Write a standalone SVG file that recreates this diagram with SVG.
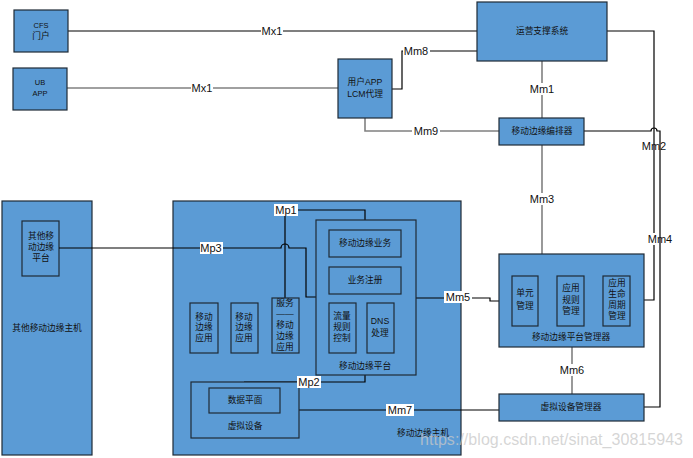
<svg xmlns="http://www.w3.org/2000/svg" width="693" height="458" viewBox="0 0 693 458">
<style>
.box{fill:#5b9bd5;stroke:#1e2a36;stroke-width:1.2}
.t{font-family:"Liberation Sans","Noto Sans CJK SC",sans-serif;font-size:8.7px;fill:#111;text-anchor:middle;dominant-baseline:central}
.lb{font-family:"Liberation Sans","Noto Sans CJK SC",sans-serif;font-size:11px;fill:#111;text-anchor:middle;dominant-baseline:central}
.bg{fill:#fff}
.k{fill:none;stroke:#000;stroke-width:1.2}
.g{fill:none;stroke:#808080;stroke-width:1.6}
</style>
<rect width="693" height="458" fill="#fff"/>

<g id="other-host"><rect class="box" x="2" y="201" width="90" height="254"/><text class="t" x="47" y="328">其他移动边缘主机</text></g>
<g id="other-platform"><rect class="box" x="22" y="221" width="37" height="55"/><text class="t" x="41" y="236">其他移</text><text class="t" x="41" y="247">动边缘</text><text class="t" x="41" y="258">平台</text></g>
<g id="me-host"><rect class="box" x="173" y="201" width="288" height="254"/><text class="t" x="423" y="433">移动边缘主机</text></g>

<g id="connectors">
<path class="k" d="M68,31 H477"/>
<path class="g" d="M67,88 H338"/>
<path class="k" d="M392,89 H402 V51 H477"/>
<path class="g" d="M542,61 V118"/>
<path class="g" d="M365,118 V131 H499"/>
<path class="k" d="M607,31 H654 V300 H644"/>
<path class="k" d="M584,131 H651 a3,3 0 0 1 6,0 H660 V407 H644"/>
<path class="g" d="M542,145 V254"/>
<path class="g" d="M572,347 V394"/>
<path class="k" d="M416,298 H490 V301 H499"/>
<path class="k" d="M299,410 H499"/>
<path class="k" d="M59,248 H281 a4,4 0 0 1 8,0 H306 V297 H316"/>
<path class="k" d="M285,298 V210 H365 V220"/>
<path class="k" d="M365,375 V382 H244"/>
</g>

<g id="cfs"><rect class="box" x="14" y="10" width="54" height="42"/><text class="t" x="41" y="25" style="font-size:7.5px">CFS</text><text class="t" x="41" y="36">门户</text></g>
<g id="ub-app"><rect class="box" x="13" y="68" width="54" height="42"/><text class="t" x="40" y="82" style="font-size:7.5px">UB</text><text class="t" x="40" y="93" style="font-size:7.5px">APP</text></g>
<g id="lcm"><rect class="box" x="338" y="59" width="54" height="59"/><text class="t" x="365" y="82">用户APP</text><text class="t" x="365" y="94">LCM代理</text></g>
<g id="oss"><rect class="box" x="477" y="2" width="130" height="59"/><text class="t" x="542" y="31">运营支撑系统</text></g>
<g id="meo"><rect class="box" x="499" y="118" width="85" height="27"/><text class="t" x="542" y="131">移动边缘编排器</text></g>

<g id="mepm"><rect class="box" x="499" y="254" width="145" height="93"/><text class="t" x="571" y="337">移动边缘平台管理器</text>
<rect class="box" x="512" y="276" width="26" height="50"/><text class="t" x="525" y="293">单元</text><text class="t" x="525" y="306">管理</text>
<rect class="box" x="557" y="276" width="27" height="50"/><text class="t" x="571" y="288">应用</text><text class="t" x="571" y="300">规则</text><text class="t" x="571" y="311">管理</text>
<rect class="box" x="603" y="276" width="27" height="50"/><text class="t" x="617" y="283">应用</text><text class="t" x="617" y="294">生命</text><text class="t" x="617" y="305">周期</text><text class="t" x="617" y="316">管理</text></g>
<g id="vim"><rect class="box" x="499" y="394" width="145" height="27"/><text class="t" x="571" y="407">虚拟设备管理器</text></g>

<g id="mep"><rect class="box" x="316" y="220" width="100" height="155"/><text class="t" x="365" y="366">移动边缘平台</text>
<rect class="box" x="329" y="230" width="72" height="27"/><text class="t" x="365" y="243">移动边缘业务</text>
<rect class="box" x="329" y="267" width="72" height="27"/><text class="t" x="365" y="280">业务注册</text>
<rect class="box" x="329" y="303" width="27" height="50"/><text class="t" x="342" y="316">流量</text><text class="t" x="342" y="327">规则</text><text class="t" x="342" y="338">控制</text>
<rect class="box" x="367" y="303" width="27" height="50"/><text class="t" x="380" y="321">DNS</text><text class="t" x="380" y="333">处理</text></g>

<g id="app1"><rect class="box" x="190" y="303" width="28" height="50"/><text class="t" x="204" y="317">移动</text><text class="t" x="204" y="327">边缘</text><text class="t" x="204" y="338">应用</text></g>
<g id="app2"><rect class="box" x="231" y="303" width="27" height="50"/><text class="t" x="244" y="317">移动</text><text class="t" x="244" y="327">边缘</text><text class="t" x="244" y="338">应用</text></g>
<g id="app3"><rect class="box" x="272" y="298" width="27" height="55"/><text class="t" x="285" y="303">服务</text><text class="t" x="285" y="314">——</text><text class="t" x="285" y="325">移动</text><text class="t" x="285" y="336">边缘</text><text class="t" x="285" y="347">应用</text></g>

<g id="virt"><rect class="box" x="191" y="382" width="108" height="56"/><text class="t" x="245" y="426">虚拟设备</text>
<rect class="box" x="209" y="388" width="71" height="25"/><text class="t" x="245" y="400">数据平面</text></g>

<g id="labels">
<rect class="bg" x="261" y="25" width="22" height="12"/><text class="lb" x="272" y="31">Mx1</text>
<rect class="bg" x="191" y="82" width="22" height="12"/><text class="lb" x="202" y="88">Mx1</text>
<rect class="bg" x="403" y="45" width="27" height="12"/><text class="lb" x="416" y="51">Mm8</text>
<rect class="bg" x="529" y="83" width="27" height="12"/><text class="lb" x="542" y="89">Mm1</text>
<rect class="bg" x="412" y="125" width="28" height="12"/><text class="lb" x="426" y="131">Mm9</text>
<rect class="bg" x="642" y="140" width="10" height="12"/><text class="lb" x="654" y="146">Mm2</text>
<rect class="bg" x="647" y="233" width="11" height="12"/><text class="lb" x="660" y="239">Mm4</text>
<rect class="bg" x="529" y="193" width="27" height="12"/><text class="lb" x="542" y="199">Mm3</text>
<rect class="bg" x="558" y="364" width="28" height="12"/><text class="lb" x="572" y="370">Mm6</text>
<rect class="bg" x="444" y="291" width="28" height="12"/><text class="lb" x="458" y="297">Mm5</text>
<rect class="bg" x="386" y="404" width="28" height="12"/><text class="lb" x="400" y="410">Mm7</text>
<rect class="bg" x="200" y="242" width="23" height="12"/><text class="lb" x="211" y="248">Mp3</text>
<rect class="bg" x="274" y="204" width="24" height="12"/><text class="lb" x="286" y="210">Mp1</text>
<rect class="bg" x="297" y="376" width="24" height="12"/><text class="lb" x="309" y="382">Mp2</text>
</g>

<text x="420" y="445" font-family="Liberation Sans,sans-serif" font-size="16" fill="#c8c8c8" fill-opacity="0.75" textLength="263">https://blog.csdn.net/sinat_30815943</text>
</svg>
